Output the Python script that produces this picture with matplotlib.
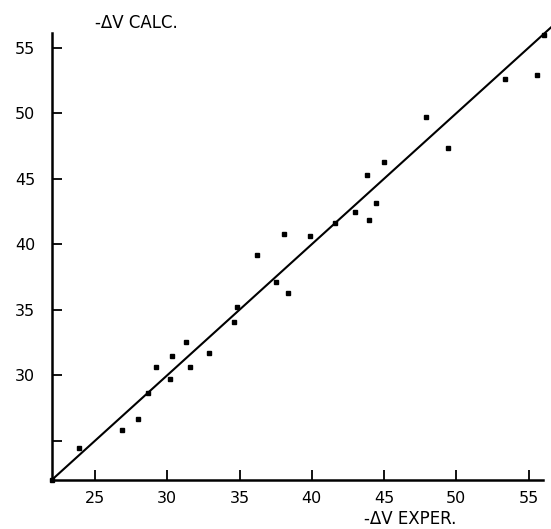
import matplotlib
matplotlib.use("Agg")
import matplotlib.pyplot as plt

# -ΔV experimental vs calculated
exper = [22.0, 23.9, 26.85, 28.0, 28.66, 29.19, 30.2, 30.3, 31.3, 31.55, 32.9,
         34.65, 34.8, 36.18, 37.55, 38.35, 38.1, 39.86, 41.6, 42.96, 43.84,
         43.96, 44.44, 44.98, 47.9, 49.4, 53.38, 55.56, 56.06]
calc = [22.0, 24.44, 25.82, 26.66, 28.65, 30.6, 29.7, 31.5, 32.5, 30.6, 31.73,
        34.04, 35.2, 39.14, 37.08, 36.26, 40.75, 40.65, 41.6, 42.48, 45.28,
        41.82, 43.14, 46.28, 49.75, 47.38, 52.62, 52.93, 55.98]

x_ticks = [25, 30, 35, 40, 45, 50, 55]
y_ticks = [25, 30, 35, 40, 45, 50, 55]
y_tick_labels = ["", "30", "35", "40", "45", "50", "55"]
fit_line = [22.0, 56.6]

fig = plt.figure(figsize=(5.51, 5.29), dpi=100)
ax = fig.add_axes([0.0938, 0.0926, 0.8917, 0.8444])

ax.plot(fit_line, fit_line, color="black", lw=1.5, clip_on=False, zorder=2)
ax.plot(exper, calc, linestyle="none", marker="s", markersize=3.2,
        color="black", clip_on=False, zorder=3)

ax.set_xlim(22, 56.0)
ax.set_ylim(22, 56.1)

for s in ["top", "right"]:
    ax.spines[s].set_visible(False)
for s in ["left", "bottom"]:
    ax.spines[s].set_linewidth(1.8)

ax.set_xticks(x_ticks)
ax.set_xticklabels([str(v) for v in x_ticks])
ax.set_yticks(y_ticks)
ax.set_yticklabels(y_tick_labels)
ax.tick_params(axis="both", direction="in", length=7, width=1.3,
               labelsize=11.5)
ax.tick_params(axis="y", pad=12)
ax.tick_params(axis="x", pad=8)

fig.text(136 / 551, 1 - 22.5 / 529, "-ΔV CALC.", ha="center", va="center",
         fontsize=12)
fig.text(410 / 551, 1 - 519 / 529, "-ΔV EXPER.", ha="center", va="center",
         fontsize=12)

fig.savefig("out.png", dpi=100)
